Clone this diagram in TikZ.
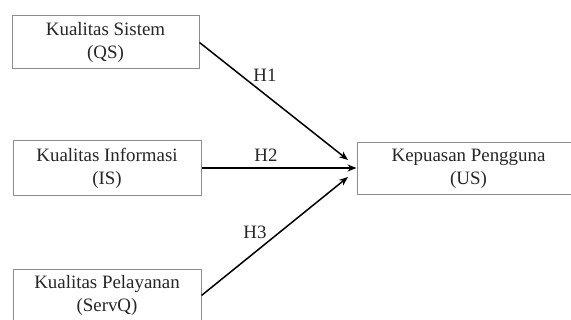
\documentclass[tikz,border=0pt]{standalone}
\usepackage{fontspec}
\setmainfont{Liberation Serif}
\usetikzlibrary{arrows.meta}

\begin{document}
\begin{tikzpicture}[x=0.5pt, y=-0.5pt,
		varbox/.style={draw=black!45, line width=0.5pt, fill=white, align=center,
			font=\fontsize{9.45}{11.5}\selectfont, text=black!85, inner sep=0pt},
		hyp/.style={line width=0.75pt, -{Stealth[length=4.5pt, width=3.5pt]}},
		hlabel/.style={font=\fontsize{9.45}{11.5}\selectfont, text=black!85, inner sep=0pt}]
			%%%%% START %%%%%
			
			\useasboundingbox (0, 0) rectangle (571, 320);
			
			\node[varbox, minimum width=93.5pt, minimum height=26.5pt] (qs) at (105.5, 42.5) {Kualitas Sistem\\(QS)};
			\node[varbox, minimum width=94pt, minimum height=27pt] (is) at (107, 168) {Kualitas Informasi\\(IS)};
			\node[varbox, minimum width=94pt, minimum height=26.5pt] (servq) at (107, 295.5) {Kualitas Pelayanan\\(ServQ)};
			
			\node[varbox, minimum width=111.5pt, minimum height=25.5pt] (us) at (468.5, 168.5) {Kepuasan Pengguna\\(US)};
			
			\coordinate (in1) at (348, 160);
			\coordinate (in3) at (348, 177);
			
			\draw[hyp] (qs.east) -- (in1);
			\draw[hyp] (is.east) -- (is.east -| us.west);
			\draw[hyp] (servq.east) -- (in3);
			
			\node[hlabel] (h1) at (265, 75) {H1};
			\node[hlabel] (h2) at (266, 155) {H2};
			\node[hlabel] (h3) at (255, 232) {H3};
			
			%%%%% END %%%%%
		\end{tikzpicture}
\end{document}
